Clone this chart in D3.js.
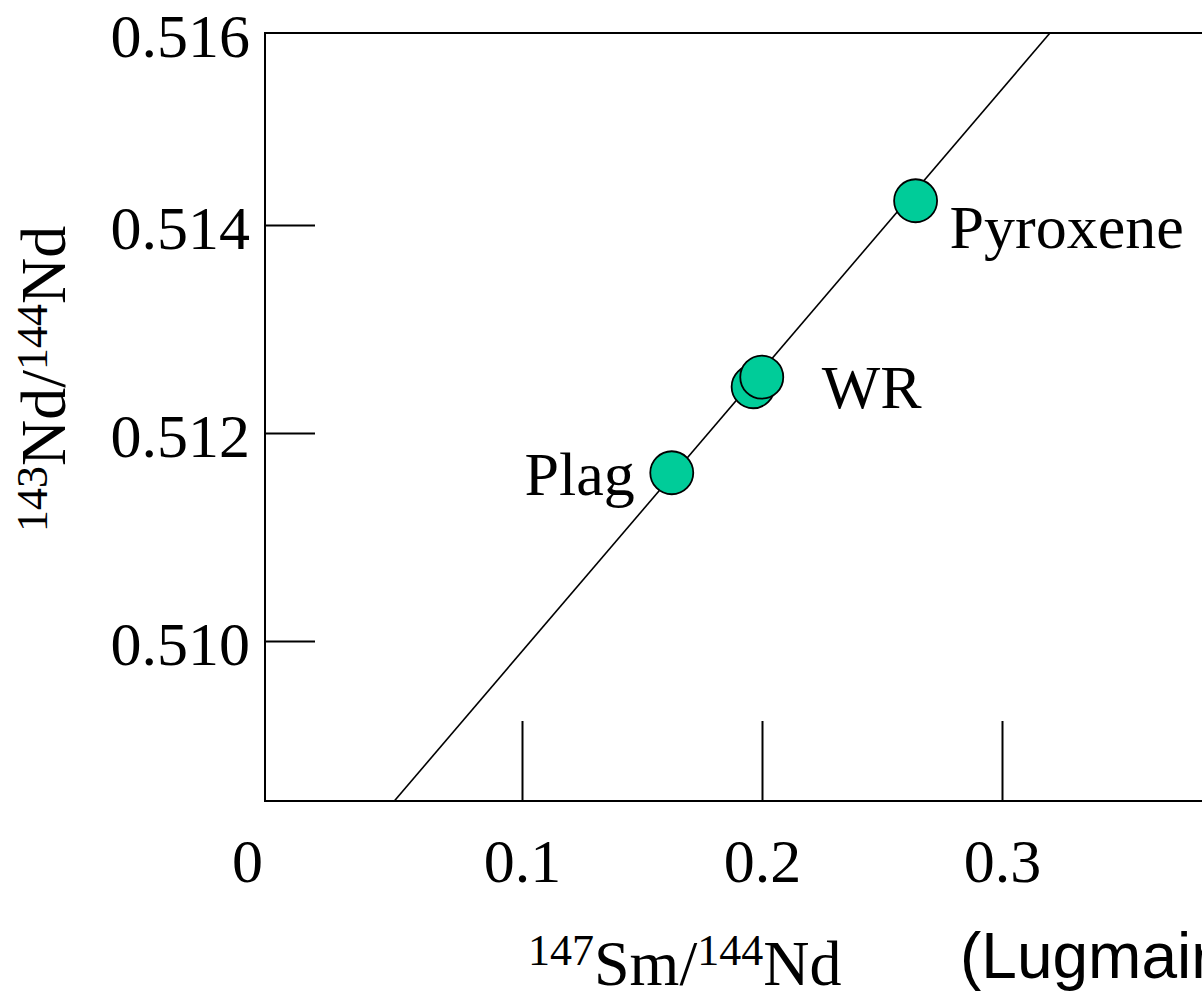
<!DOCTYPE html>
<html>
<head>
<meta charset="utf-8">
<script src="https://cdn.jsdelivr.net/npm/d3@7"></script>
<style>
  html, body { margin: 0; padding: 0; background: #fff; overflow: hidden; }
  svg { display: block; }
  text { fill: #000; }
</style>
</head>
<body>
<svg id="chart" width="1202" height="992"></svg>
<script>
// Sm-Nd isochron: mineral separates and whole rock
const sampleNames = ["Plag", "WR", "WR", "Pyroxene"];
const smNd = [0.1624, 0.1963, 0.1999, 0.2640];          // 147Sm/144Nd
const ndNd = [0.511618, 0.512445, 0.512537, 0.514233];  // 143Nd/144Nd

// Best-fit isochron: 143Nd/144Nd = intercept + slope * 147Sm/144Nd
const isochronIntercept = [0.507197];
const isochronSlope = [0.02703];

// Axis ticks and their labels
const xTicks = [0.1, 0.2, 0.3];
const xTickLabels = ["0.1", "0.2", "0.3"];
const yTicks = [0.510, 0.512, 0.514];
const yTickLabels = ["0.510", "0.512", "0.514"];
// Labels written at the plot corners
const xCornerLabel = ["0"];
const yCornerLabel = ["0.516"];

const SERIF = "'Liberation Serif', 'Times New Roman', serif";
const SANS = "'Liberation Sans', Arial, sans-serif";
const FONT = 62;

const svg = d3.select("#chart");

// Plot frame in pixels
const plotLeft = 265, plotRight = 1260, plotTop = 33, plotBottom = 801;

const x = d3.scaleLinear().domain([-0.007083, 0.4075]).range([plotLeft, plotRight]);
const y = d3.scaleLinear().domain([0.508462, 0.515846]).range([plotBottom, plotTop]);

// Frame (left, top, bottom)
svg.append("path")
  .attr("d", `M${plotRight},${plotTop}H${plotLeft}V${plotBottom}H${plotRight}`)
  .attr("fill", "none")
  .attr("stroke", "#000")
  .attr("stroke-width", 2);

// Y axis: inward ticks
const yAxis = d3.axisLeft(y)
  .tickValues(yTicks)
  .tickFormat((d, i) => yTickLabels[i])
  .tickSizeInner(-50)
  .tickSizeOuter(0)
  .tickPadding(15);

const gy = svg.append("g").attr("transform", `translate(${plotLeft},0)`).call(yAxis);
gy.select(".domain").remove();
gy.selectAll(".tick line").attr("stroke", "#000").attr("stroke-width", 2);
gy.selectAll(".tick text")
  .style("font-family", SERIF)
  .style("font-size", FONT + "px")
  .attr("dy", "0.38em");

// X axis: inward ticks
const xAxis = d3.axisBottom(x)
  .tickValues(xTicks)
  .tickFormat((d, i) => xTickLabels[i])
  .tickSizeInner(-80)
  .tickSizeOuter(0)
  .tickPadding(37);

const gx = svg.append("g").attr("transform", `translate(0,${plotBottom})`).call(xAxis);
gx.select(".domain").remove();
gx.selectAll(".tick line").attr("stroke", "#000").attr("stroke-width", 2);
gx.selectAll(".tick text")
  .style("font-family", SERIF)
  .style("font-size", FONT + "px");

// Corner labels
svg.append("text")
  .attr("x", plotLeft - 15).attr("y", plotTop).attr("dy", "0.38em")
  .attr("text-anchor", "end")
  .style("font-family", SERIF).style("font-size", FONT + "px")
  .text(yCornerLabel[0]);
svg.append("text")
  .attr("x", plotLeft - 2).attr("y", plotBottom + 37).attr("dy", "0.71em")
  .attr("text-anchor", "end")
  .style("font-family", SERIF).style("font-size", FONT + "px")
  .text(xCornerLabel[0]);

// Isochron, clipped to the frame
svg.append("clipPath").attr("id", "plot-clip")
  .append("rect").attr("x", plotLeft).attr("y", plotTop)
  .attr("width", plotRight - plotLeft).attr("height", plotBottom - plotTop);

const lineData = x.domain().map(v => [v, isochronIntercept[0] + isochronSlope[0] * v]);
svg.append("path")
  .attr("clip-path", "url(#plot-clip)")
  .attr("d", d3.line().x(d => x(d[0])).y(d => y(d[1]))(lineData))
  .attr("fill", "none")
  .attr("stroke", "#000")
  .attr("stroke-width", 1.6);

// Samples
const samples = sampleNames.map((n, i) => ({ name: n, sx: smNd[i], sy: ndNd[i] }));
svg.append("g").selectAll("circle")
  .data(samples)
  .join("circle")
  .attr("cx", d => x(d.sx))
  .attr("cy", d => y(d.sy))
  .attr("r", 21.5)
  .attr("fill", "#00cc99")
  .attr("stroke", "#000")
  .attr("stroke-width", 1.8);

// Sample labels, one per name, beside the last point of that name
const labelPlacement = {
  "Plag": { dx: -37, dy: 22, anchor: "end" },
  "WR": { dx: 60, dy: 31, anchor: "start" },
  "Pyroxene": { dx: 34, dy: 47, anchor: "start" }
};
const lastOfName = new Map();
samples.forEach(d => lastOfName.set(d.name, d));
svg.append("g").selectAll("text")
  .data(Array.from(lastOfName.values()))
  .join("text")
  .attr("x", d => x(d.sx) + labelPlacement[d.name].dx)
  .attr("y", d => y(d.sy) + labelPlacement[d.name].dy)
  .attr("text-anchor", d => labelPlacement[d.name].anchor)
  .style("font-family", SERIF).style("font-size", FONT + "px")
  .text(d => d.name);

// Axis titles
const xTitle = svg.append("text")
  .attr("x", 528).attr("y", 985)
  .style("font-family", SERIF).style("font-size", "64px");
xTitle.append("tspan").style("font-size", "44px").attr("dy", -20).text("147");
xTitle.append("tspan").attr("dy", 20).text("Sm/");
xTitle.append("tspan").style("font-size", "44px").attr("dy", -20).text("144");
xTitle.append("tspan").attr("dy", 20).text("Nd");

const yTitle = svg.append("text")
  .attr("transform", "translate(65,532) rotate(-90)")
  .style("font-family", SERIF).style("font-size", "64px");
yTitle.append("tspan").style("font-size", "44px").attr("dy", -18).text("143");
yTitle.append("tspan").attr("dy", 18).text("Nd/");
yTitle.append("tspan").style("font-size", "44px").attr("dy", -18).text("144");
yTitle.append("tspan").attr("dy", 18).text("Nd");

// Source note
svg.append("text")
  .attr("x", 960).attr("y", 978)
  .style("font-family", SANS).style("font-size", "64px")
  .text("(Lugmair et al., 1975)");
</script>
</body>
</html>
